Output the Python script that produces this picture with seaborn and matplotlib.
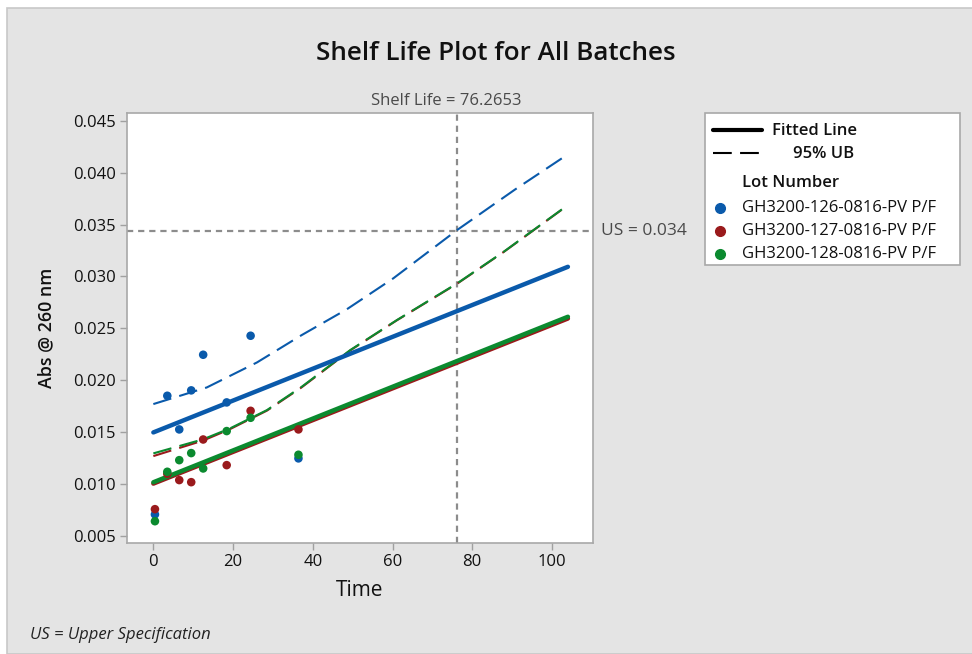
import numpy as np
import pandas as pd
import seaborn as sns
import matplotlib.pyplot as plt
from matplotlib.lines import Line2D
from matplotlib.patches import Rectangle
from matplotlib.ticker import FormatStrFormatter

lots = ["GH3200-126-0816-PV P/F", "GH3200-127-0816-PV P/F", "GH3200-128-0816-PV P/F"]
colors = ["#0a5aab", "#9a1a1c", "#0b8a2f"]

# observed points (time, abs)
times = [0.4, 3.5, 6.5, 9.5, 12.5, 18.4, 24.4, 36.4]
abs_126 = [0.00708, 0.01851, 0.01527, 0.01903, 0.02246, 0.01787, 0.02429, 0.01248]
abs_127 = [0.00759, 0.01100, 0.01039, 0.01019, 0.01430, 0.01183, 0.01706, 0.01527]
abs_128 = [0.00643, 0.01119, 0.01231, 0.01299, 0.01151, 0.01511, 0.01639, 0.01283]

# fitted lines (pooled slope)
fit_time = [0, 104]
fit_126 = [0.01498, 0.03093]
fit_127 = [0.01005, 0.02595]
fit_128 = [0.01018, 0.02612]

# 95% upper bounds
ub_time = [0, 13.4, 26, 37.2, 48.5, 60.2, 76.2, 90.8, 102.5]
ub_126 = [0.01771, 0.01931, 0.02172, 0.02435, 0.02683, 0.02982, 0.03447, 0.03839, 0.04138]
ub_rg_time = [0, 12.5, 19.25, 28.5, 37.2, 49.4, 61.1, 76.2, 87.9, 102.5]
ub_127 = [0.01270, 0.01420, 0.01530, 0.01708, 0.01932, 0.02288, 0.02578, 0.02930, 0.03236, 0.03644]
ub_128 = [0.01296, 0.01432, 0.01537, 0.01713, 0.01937, 0.02291, 0.02580, 0.02933, 0.03238, 0.03646]

shelf_life = 76.2653
us_value = 0.0344

pts = pd.DataFrame({
    "Time": times * 3,
    "Abs": abs_126 + abs_127 + abs_128,
    "Lot": [lots[0]] * 8 + [lots[1]] * 8 + [lots[2]] * 8,
})
fits = pd.DataFrame({
    "Time": fit_time * 3,
    "Abs": fit_126 + fit_127 + fit_128,
    "Lot": [lots[0]] * 2 + [lots[1]] * 2 + [lots[2]] * 2,
})
ubs = pd.DataFrame({
    "Time": ub_time + ub_rg_time * 2,
    "Abs": ub_126 + ub_127 + ub_128,
    "Lot": [lots[0]] * len(ub_time) + [lots[1]] * len(ub_rg_time) + [lots[2]] * len(ub_rg_time),
})

sns.set_theme(style="white")
plt.rcParams['font.family'] = ['Open Sans', 'DejaVu Sans']
pal = dict(zip(lots, colors))
W, H = 972, 654


def fx(px):
    return px / W


def fy(py):
    return 1 - py / H


fig = plt.figure(figsize=(9.72, 6.54), dpi=100, facecolor="white")
fig.add_artist(Rectangle((fx(7), 0), 1, fy(8), transform=fig.transFigure,
                         facecolor="#e4e4e4", edgecolor="#c8c8c8", lw=1.2, zorder=-10))
ax = fig.add_axes([0.1307, 0.1697, 0.4794, 0.6575])
ax.set_facecolor("white")

sns.lineplot(data=ubs, x="Time", y="Abs", hue="Lot", palette=pal, ax=ax, legend=False,
             lw=1.5, sort=False)
for ln in ax.lines:
    ln.set_dashes([9, 4])
sns.lineplot(data=fits, x="Time", y="Abs", hue="Lot", palette=pal, ax=ax, legend=False,
             lw=3.2, sort=False)
sns.scatterplot(data=pts, x="Time", y="Abs", hue="Lot", palette=pal, ax=ax, legend=False,
                s=38, edgecolor="none", zorder=5)

ax.axvline(shelf_life, color="#8c8c8c", lw=1.6, ls=(0, (2.8, 2.2)), zorder=1)
ax.axhline(us_value, color="#8c8c8c", lw=1.6, ls=(0, (2.8, 2.2)), zorder=1)

ax.set_xlim(-6.6, 110.3)
ax.set_ylim(0.00433, 0.04574)
ax.set_xticks([0, 20, 40, 60, 80, 100])
ax.set_yticks(np.arange(0.005, 0.0451, 0.005))
ax.yaxis.set_major_formatter(FormatStrFormatter('%.3f'))
ax.tick_params(axis="both", direction="out", length=5, width=1, color="#a0a0a0",
               labelsize=12, labelcolor="#111111", pad=3, left=True, bottom=True)
for sp in ax.spines.values():
    sp.set_color("#a8a8a8")
    sp.set_linewidth(1.2)

ax.set_xlabel("Time", fontsize=15, fontweight="medium", labelpad=7, color="#111111")
ax.set_ylabel("Abs @ 260 nm", fontsize=12.8, fontweight="semibold", labelpad=13, color="#111111")

ax.annotate("Shelf Life = 76.2653", xy=(shelf_life, 1.0), xycoords=ax.get_xaxis_transform(),
            xytext=(-8, 3), textcoords="offset points", ha="center", va="bottom",
            fontsize=12, color="#4a4a4a")
ax.annotate("US = 0.034", xy=(1.0, us_value), xycoords=ax.get_yaxis_transform(),
            xytext=(6, 0), textcoords="offset points", ha="left", va="center",
            fontsize=12.5, color="#4a4a4a")

fig.text(0.51, fy(53), "Shelf Life Plot for All Batches", ha="center", va="center",
         fontsize=18.7, fontweight="semibold", color="#111111")
fig.text(fx(30), fy(635), "US = Upper Specification", ha="left", va="center",
         fontsize=12, style="italic", color="#222222")

# legend box
fig.add_artist(Rectangle((fx(705), fy(265)), fx(960) - fx(705), fy(113) - fy(265),
                         transform=fig.transFigure, facecolor="white",
                         edgecolor="#a8a8a8", lw=1.2))
fig.add_artist(Line2D([fx(713), fx(762)], [fy(130), fy(130)], transform=fig.transFigure,
                      color="black", lw=3))
fig.add_artist(Line2D([fx(713), fx(762)], [fy(153), fy(153)], transform=fig.transFigure,
                      color="black", lw=1.5, dashes=[9, 4]))
fig.text(fx(772), fy(131), "Fitted Line", ha="left", va="center", fontsize=12,
         fontweight="semibold", color="#111111")
fig.text(fx(793), fy(154), "95% UB", ha="left", va="center", fontsize=12,
         fontweight="semibold", color="#111111")
fig.text(fx(742), fy(183), "Lot Number", ha="left", va="center", fontsize=12,
         fontweight="semibold", color="#111111")
for i, (lot, c) in enumerate(zip(lots, colors)):
    yy = fy(208 + 23 * i)
    fig.add_artist(Line2D([fx(720)], [yy], transform=fig.transFigure, color=c,
                          marker="o", ls="none", markersize=7))
    fig.text(fx(742), yy, lot, ha="left", va="center", fontsize=12,
             fontweight="medium", color="#111111")

fig.savefig("out.png", dpi=100)
